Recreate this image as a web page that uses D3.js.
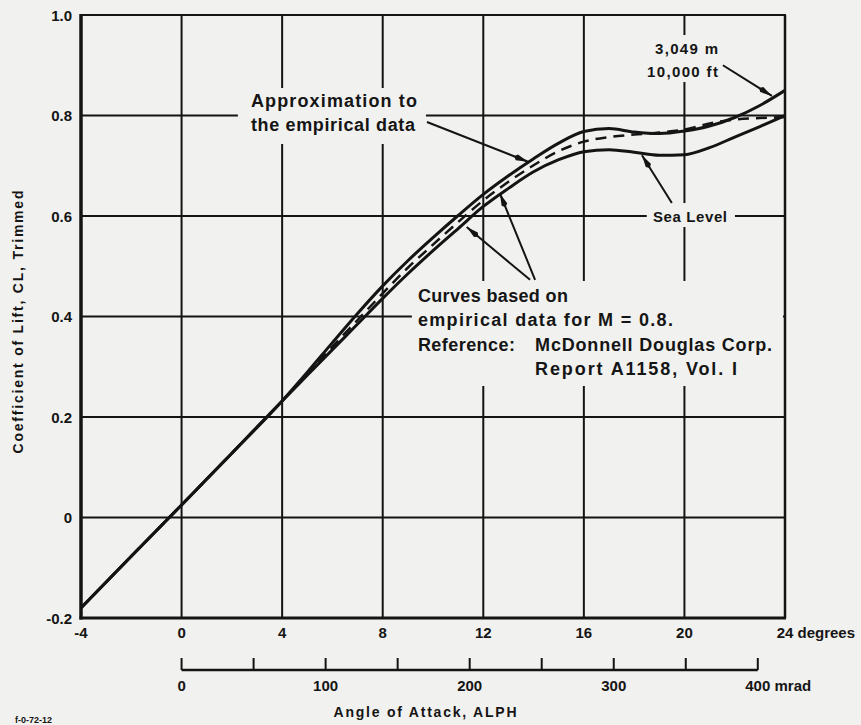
<!DOCTYPE html>
<html><head><meta charset="utf-8">
<script src="https://cdn.jsdelivr.net/npm/d3@7"></script>
<style>
html,body{margin:0;padding:0;background:#f1f1ef;}
svg{display:block;}
text{font-family:"Liberation Sans",Arial,Helvetica,sans-serif;fill:#151515;font-weight:bold;}
</style></head><body>
<svg id="chart" width="861" height="725"></svg>
<script>
// ---- data ----
const alphaDeg   = [-4,-2,0,2,4,5,6,7,8,9,10,11,12,13,14,15,16,17,18,19,20,21,22,23,24];
const cl10000ft  = [-0.18,-0.077,0.025,0.128,0.232,0.289,0.348,0.406,0.461,0.511,0.557,0.601,0.643,0.680,0.714,0.745,0.768,0.774,0.767,0.764,0.769,0.779,0.796,0.820,0.850];
const clSeaLevel = [-0.18,-0.077,0.025,0.128,0.232,0.283,0.334,0.385,0.436,0.485,0.531,0.575,0.619,0.655,0.688,0.712,0.728,0.732,0.727,0.721,0.722,0.736,0.757,0.778,0.800];
const clApprox   = [-0.18,-0.077,0.025,0.128,0.232,0.285,0.340,0.393,0.446,0.497,0.543,0.588,0.631,0.668,0.701,0.729,0.748,0.757,0.762,0.766,0.772,0.784,0.792,0.795,0.797];

const degTicks   = [-4,0,4,8,12,16,20,24];
const degLabels  = ["-4","0","4","8","12","16","20","24 degrees"];
const clTicks    = [-0.2,0,0.2,0.4,0.6,0.8,1.0];
const clLabels   = ["-0.2","0","0.2","0.4","0.6","0.8","1.0"];
const mradTicks  = [0,50,100,150,200,250,300,350,400];
const mradLabelValues = [0,100,200,300,400];
const mradLabels = ["0","100","200","300","400 mrad"];

const xTitle = "Angle of Attack, ALPH";
const yTitle = "Coefficient of Lift, CL, Trimmed";

// arrows in data units [alpha, CL] : from -> to
const arrows = [
  {from:[21.53,0.900], to:[23.48,0.839]},   // 10,000 ft
  {from:[19.50,0.626], to:[18.31,0.721]},   // Sea Level
  {from:[9.76,0.787],  to:[13.78,0.708]},   // Approximation
  {from:[13.86,0.473], to:[11.34,0.578]},   // Curves -> sea level
  {from:[14.06,0.473], to:[12.66,0.645]}    // Curves -> 10,000 ft
];

// annotation text (anchor in data units, target width in px)
const notes = [
  {t:"Approximation to",            a:2.76,  c:0.8169, size:18, w:166},
  {t:"the empirical data",          a:2.76,  c:0.7692, size:18, w:164},
  {t:"Curves based on",             a:9.40,  c:0.4289, size:18, w:150},
  {t:"empirical data for M = 0.8.", a:9.40,  c:0.3811, size:18, w:255},
  {t:"Reference:",                  a:9.40,  c:0.3314, size:18, w:97},
  {t:"McDonnell Douglas Corp.",     a:14.06, c:0.3314, size:18, w:237},
  {t:"Report A1158, Vol. I",        a:14.06, c:0.2836, size:18, w:202},
  {t:"Sea Level",                   a:18.75, c:0.5881, size:15, w:74},
  {t:"3,049 m",                     a:18.83, c:0.9224, size:15, w:63},
  {t:"10,000 ft",                   a:18.51, c:0.8766, size:15, w:71}
];
// grid gaps behind the notes, in data units [a0, c0, a1, c1]
const gaps = [
  [2.24, 0.8547, 9.72, 0.7433],
  [9.16, 0.4707, 23.92, 0.2617],
  [18.50, 0.6259, 22.01, 0.5781],
  [18.23, 0.9602, 21.73, 0.8667]
];

// ---- drawing ----
const svg = d3.select("#chart");
const x = d3.scaleLinear().domain([-4,24]).range([81,785]);
const y = d3.scaleLinear().domain([-0.2,1.0]).range([618,15]);
const xm = d3.scaleLinear().domain([0,400]).range([x(0), x(400*180/Math.PI/1000)]);
const ink = "#141414";

// grid
const g = svg.append("g");
g.selectAll(".vg").data(degTicks.filter(d=>d>-4 && d<24)).join("line")
  .attr("x1",d=>x(d)).attr("x2",d=>x(d)).attr("y1",y(1.0)).attr("y2",y(-0.2))
  .attr("stroke",ink).attr("stroke-width",2);
g.selectAll(".hg").data(clTicks.filter(d=>d>-0.2 && d<1.0)).join("line")
  .attr("y1",d=>y(d)).attr("y2",d=>y(d)).attr("x1",x(-4)).attr("x2",x(24))
  .attr("stroke",ink).attr("stroke-width",2);

// gaps
svg.append("g").selectAll("rect").data(gaps).join("rect")
  .attr("x",d=>x(d[0])).attr("y",d=>y(d[1]))
  .attr("width",d=>x(d[2])-x(d[0])).attr("height",d=>y(d[3])-y(d[1]))
  .attr("fill","#f1f1ef");

// frame
svg.append("line").attr("x1",x(-4)).attr("x2",x(-4)).attr("y1",y(1.0)-1).attr("y2",y(-0.2)+1.5).attr("stroke",ink).attr("stroke-width",3.5);
svg.append("line").attr("x1",x(-4)-1.5).attr("x2",x(24)+1).attr("y1",y(-0.2)).attr("y2",y(-0.2)).attr("stroke",ink).attr("stroke-width",3);
svg.append("line").attr("x1",x(-4)).attr("x2",x(24)+1).attr("y1",y(1.0)).attr("y2",y(1.0)).attr("stroke",ink).attr("stroke-width",2.2);
svg.append("line").attr("x1",x(24)).attr("x2",x(24)).attr("y1",y(1.0)).attr("y2",y(-0.2)).attr("stroke",ink).attr("stroke-width",2.5);

// curves
const line = d3.line().x(d=>x(d[0])).y(d=>y(d[1])).curve(d3.curveMonotoneX);
const zip = arr => alphaDeg.map((a,i)=>[a,arr[i]]);
svg.append("path").attr("d",line(zip(clSeaLevel))).attr("fill","none").attr("stroke",ink).attr("stroke-width",3);
svg.append("path").attr("d",line(zip(cl10000ft))).attr("fill","none").attr("stroke",ink).attr("stroke-width",3);
svg.append("path").attr("d",line(zip(clApprox))).attr("fill","none").attr("stroke",ink).attr("stroke-width",2.5).attr("stroke-dasharray","11,7");

// arrows
const defs = svg.append("defs");
defs.append("marker").attr("id","ah").attr("markerUnits","userSpaceOnUse")
  .attr("markerWidth",16).attr("markerHeight",8).attr("refX",15).attr("refY",4).attr("orient","auto")
  .append("path").attr("d","M0,4 L3,1 L15,4 L3,7 Z").attr("fill",ink);
svg.append("g").selectAll("line").data(arrows).join("line")
  .attr("x1",d=>x(d.from[0])).attr("y1",d=>y(d.from[1]))
  .attr("x2",d=>x(d.to[0])).attr("y2",d=>y(d.to[1]))
  .attr("stroke",ink).attr("stroke-width",2).attr("marker-end","url(#ah)");

// notes
svg.append("g").selectAll("text").data(notes).join("text")
  .attr("x",d=>x(d.a)).attr("y",d=>y(d.c))
  .attr("font-size",d=>d.size)
  .attr("textLength",d=>d.w).attr("lengthAdjust","spacing")
  .text(d=>d.t);

// degree tick labels
const dl = svg.append("g").selectAll("text").data(degTicks).join("text")
  .attr("y",638).attr("font-size",15)
  .text((d,i)=>degLabels[i]);
dl.each(function(d,i){
  const el=d3.select(this);
  if(degLabels[i].indexOf(" ")>0){
    const tmp = svg.append("text").attr("font-size",15).text(String(d));
    const w = tmp.node().getComputedTextLength(); tmp.remove();
    el.attr("x",x(d)-w/2).attr("text-anchor","start");
  } else el.attr("x",x(d)).attr("text-anchor","middle");
});

// CL tick labels
svg.append("g").selectAll("text").data(clTicks).join("text")
  .attr("x",72).attr("y",d=>y(d)+5.5).attr("text-anchor","end").attr("font-size",15)
  .text((d,i)=>clLabels[i]);

// mrad axis
const my = 670;
svg.append("line").attr("x1",xm(0)).attr("x2",xm(400)).attr("y1",my).attr("y2",my).attr("stroke",ink).attr("stroke-width",2.5);
svg.append("g").selectAll("line").data(mradTicks).join("line")
  .attr("x1",d=>xm(d)).attr("x2",d=>xm(d)).attr("y1",my).attr("y2",my-12)
  .attr("stroke",ink).attr("stroke-width",2);
const ml = svg.append("g").selectAll("text").data(mradLabelValues).join("text")
  .attr("y",691).attr("font-size",15).text((d,i)=>mradLabels[i]);
ml.each(function(d,i){
  const el=d3.select(this);
  if(mradLabels[i].indexOf(" ")>0){
    const tmp = svg.append("text").attr("font-size",15).text(String(d));
    const w = tmp.node().getComputedTextLength(); tmp.remove();
    el.attr("x",xm(d)-w/2).attr("text-anchor","start");
  } else el.attr("x",xm(d)).attr("text-anchor","middle");
});

// titles
svg.append("text").attr("x",425).attr("y",717).attr("text-anchor","middle").attr("font-size",14)
  .attr("textLength",183).attr("lengthAdjust","spacing").text(xTitle);
svg.append("text").attr("transform","translate(23,322) rotate(-90)").attr("text-anchor","middle").attr("font-size",14)
  .attr("textLength",263).attr("lengthAdjust","spacing").text(yTitle);
svg.append("text").attr("x",15).attr("y",723).attr("font-size",9).attr("font-weight","normal").text("f-0-72-12");
</script>
</body></html>
